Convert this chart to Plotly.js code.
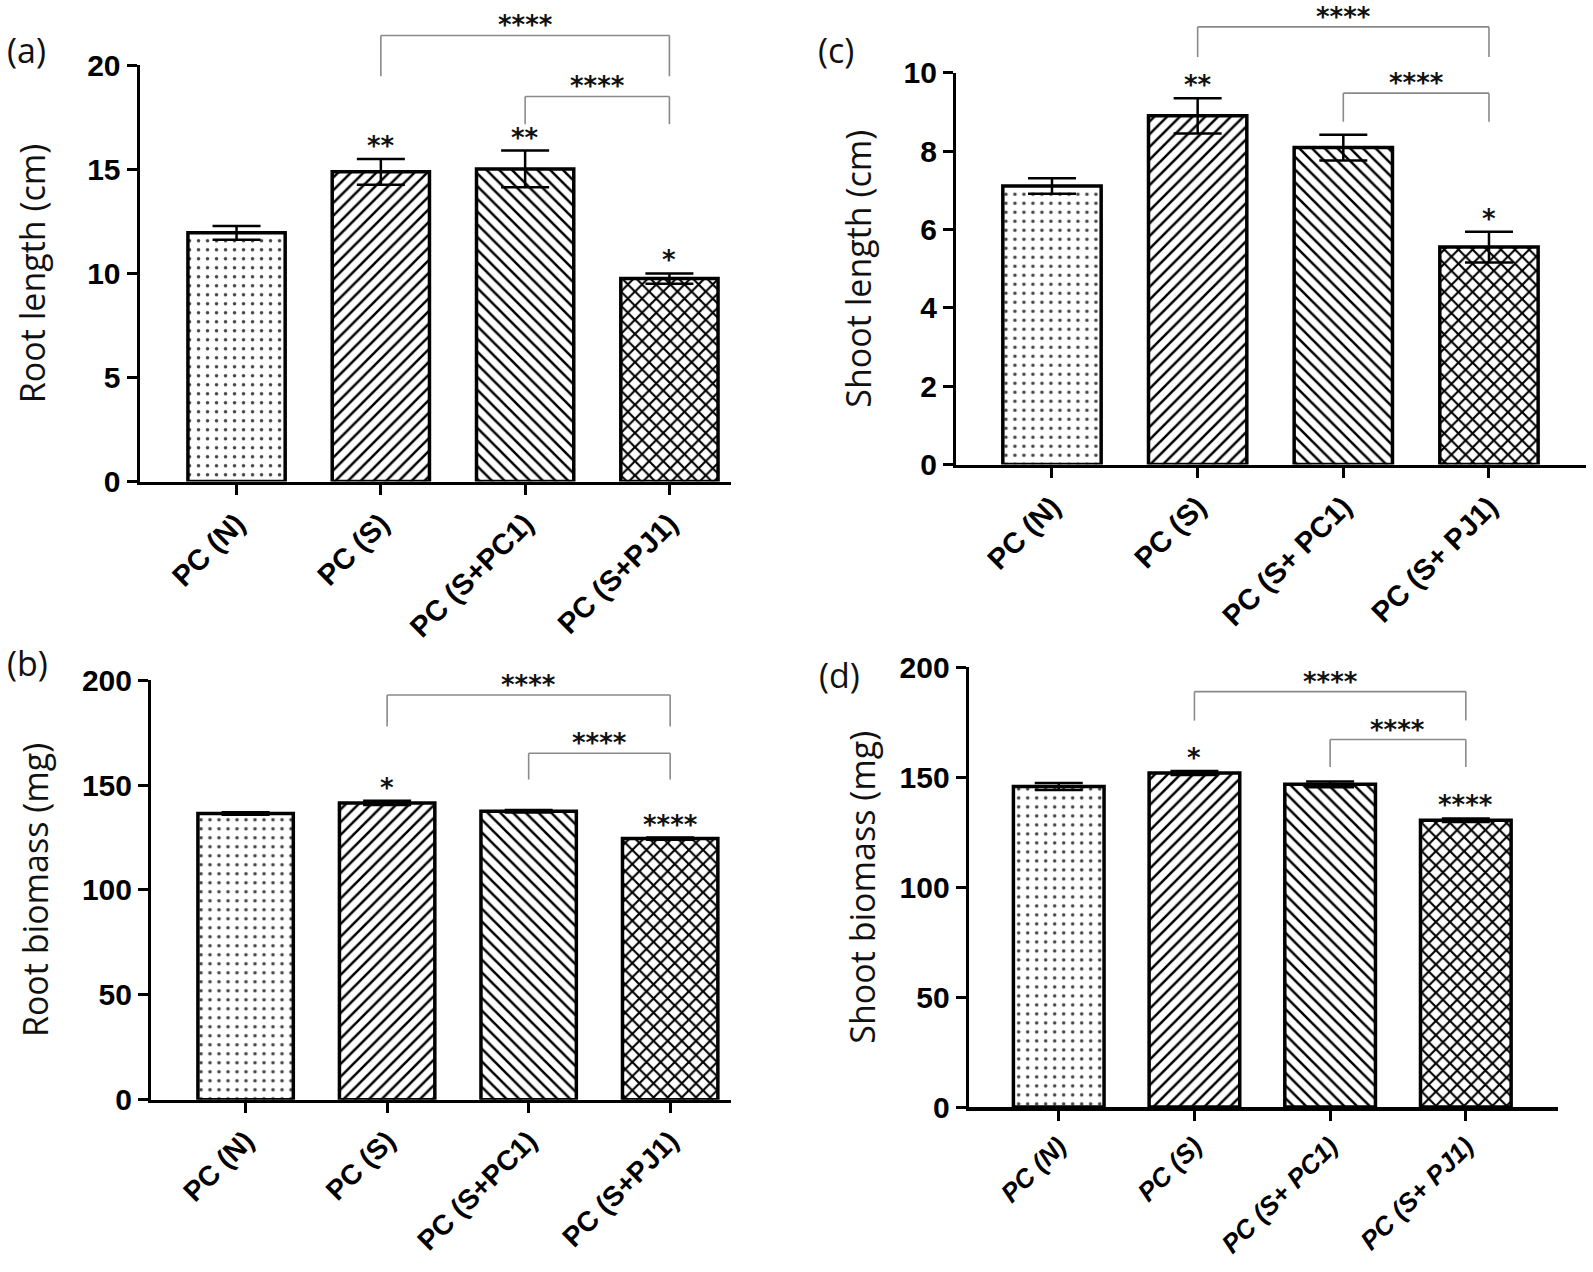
<!DOCTYPE html>
<html>
<head>
<meta charset="utf-8">
<script src="https://cdn.plot.ly/plotly-3.0.1.min.js"></script>
<style>html,body{margin:0;padding:0;background:#fff}#chart{width:1593px;height:1272px}</style>
</head>
<body>
<div id="chart"></div>
<script>
// ---------- data ----------
const categoriesAB = ["PC (N)", "PC (S)", "PC (S+PC1)", "PC (S+PJ1)"];
const categoriesCD = ["PC (N)", "PC (S)", "PC (S+ PC1)", "PC (S+ PJ1)"];

const rootLength = [11.95, 14.88, 15.02, 9.75];
const rootLengthErr = [0.33, 0.62, 0.88, 0.25];
const rootLengthSig = ["", "**", "**", "*"];

const shootLength = [7.11, 8.9, 8.09, 5.55];
const shootLengthErr = [0.2, 0.45, 0.33, 0.39];
const shootLengthSig = ["", "**", "", "*"];

const rootBiomass = [136.5, 141.5, 137.5, 124.5];
const rootBiomassErr = [0.6, 1.0, 0.6, 0.5];
const rootBiomassSig = ["", "*", "", "****"];

const shootBiomass = [145.8, 152.0, 146.8, 130.5];
const shootBiomassErr = [1.6, 0.9, 1.3, 0.8];
const shootBiomassSig = ["", "*", "", "****"];

// comparison brackets: from / to category index, bar level, leg bottom
const bracketFromA = [1, 2], bracketToA = [3, 3], bracketLevelA = [21.43, 18.5], bracketLegA = [19.47, 17.17];
const bracketFromC = [1, 2], bracketToC = [3, 3], bracketLevelC = [11.17, 9.48], bracketLegC = [10.4, 8.75];
const bracketFromB = [1, 2], bracketToB = [3, 3], bracketLevelB = [193, 165.2], bracketLegB = [178, 152.7];
const bracketFromD = [1, 2], bracketToD = [3, 3], bracketLevelD = [189, 167.2], bracketLegD = [175.8, 154.7];
const bracketLabel = "****";

// ---------- styling ----------
const patShapes = [".", "/", "\\", "x"];
const patSize = [9, 9, 9, 10];
const patSolid = [0.12, 0.28, 0.28, 0.38];
const patFg = ["#444", "#000", "#000", "#000"];
const starFont = {family: "DejaVu Sans, sans-serif", size: 26, weight: "bold", color: "#111"};

const panels = [
  {x: "x",  y: "y",  cats: categoriesAB, vals: rootLength,   err: rootLengthErr,   sig: rootLengthSig,
   bf: bracketFromA, bt: bracketToA, bl: bracketLevelA, bg: bracketLegA, yr: [0, 20],  dt: 5,
   xr: [-0.669, 3.427], xd: [0.0879, 0.4589], yd: [0.6214, 0.9487], title: "Root length (cm)", so: 32, bw: 0.674, italic: false, xfs: 29},
  {x: "x2", y: "y2", cats: categoriesCD, vals: shootLength,  err: shootLengthErr,  sig: shootLengthSig,
   bf: bracketFromC, bt: bracketToC, bl: bracketLevelC, bg: bracketLegC, yr: [0, 10],  dt: 2,
   xr: [-0.656, 3.666], xd: [0.6004, 0.9956], yd: [0.6348, 0.9428], title: "Shoot length (cm)", so: 22, bw: 0.675, italic: false, xfs: 29},
  {x: "x3", y: "y3", cats: categoriesAB, vals: rootBiomass,  err: rootBiomassErr,  sig: rootBiomassSig,
   bf: bracketFromB, bt: bracketToB, bl: bracketLevelB, bg: bracketLegB, yr: [0, 200], dt: 50,
   xr: [-0.665, 3.43], xd: [0.0951, 0.4589], yd: [0.1355, 0.4652], title: "Root biomass (mg)", so: 24, bw: 0.674, italic: false, xfs: 28},
  {x: "x4", y: "y4", cats: categoriesCD, vals: shootBiomass, err: shootBiomassErr, sig: shootBiomassSig,
   bf: bracketFromD, bt: bracketToD, bl: bracketLevelD, bg: bracketLegD, yr: [0, 200], dt: 50,
   xr: [-0.66, 3.679], xd: [0.6084, 0.978], yd: [0.1297, 0.4753], title: "Shoot biomass (mg)", so: 14, bw: 0.668, italic: true, xfs: 26}
];

const traces = [];
const shapes = [];
const annotations = [];
const layout = {
  width: 1593, height: 1272,
  margin: {l: 0, r: 0, t: 0, b: 0},
  paper_bgcolor: "#fff", plot_bgcolor: "#fff",
  showlegend: false
};

panels.forEach((p, i) => {
  traces.push({
    type: "bar", x: p.cats, y: p.vals, xaxis: p.x, yaxis: p.y, width: p.bw,
    marker: {
      color: "#fff",
      line: {color: "#000", width: 3.5},
      pattern: {shape: patShapes, size: patSize, solidity: patSolid, fgcolor: patFg, bgcolor: "#fff", fillmode: "replace"}
    },
    error_y: {type: "data", array: p.err, visible: true, color: "#000", thickness: 2.5, width: 24},
    hoverinfo: "skip"
  });

  const xn = "xaxis" + (i === 0 ? "" : i + 1);
  const yn = "yaxis" + (i === 0 ? "" : i + 1);
  layout[xn] = {
    domain: p.xd, anchor: p.y, type: "category", range: p.xr,
    showline: true, linecolor: "#000", linewidth: 3.5, showgrid: false, zeroline: false,
    ticks: "outside", ticklen: 10, tickwidth: 3, tickcolor: "#000",
    tickangle: -45, categoryorder: "array", categoryarray: p.cats,
    tickfont: {family: "Liberation Sans, Arial, sans-serif", size: p.xfs, weight: "bold", color: "#000", style: p.italic ? "italic" : "normal"},
    fixedrange: true
  };
  layout[yn] = {
    domain: p.yd, anchor: p.x, range: p.yr, dtick: p.dt, tick0: 0,
    showline: true, linecolor: "#000", linewidth: 3.5, showgrid: false, zeroline: false,
    ticks: "outside", ticklen: 10, tickwidth: 3, tickcolor: "#000",
    tickfont: {family: "Liberation Sans, Arial, sans-serif", size: 30, weight: "bold", color: "#000"},
    title: {text: p.title, font: {family: "Open Sans, sans-serif", size: 34, color: "#111"}, standoff: p.so},
    fixedrange: true
  };

  const span = p.yr[1] - p.yr[0];
  const dom = v => (v - p.yr[0]) / span;
  const toPaper = v => p.yd[0] + dom(v) * (p.yd[1] - p.yd[0]);
  const yd = p.y + " domain";
  const lineStyle = {color: "#8a8a8a", width: 1.6};
  p.bf.forEach((f, k) => {
    const t = p.bt[k];
    const lvl = dom(p.bl[k]);
    const leg = dom(p.bg[k]);
    shapes.push({type: "line", xref: p.x, yref: yd, x0: f, x1: f, y0: leg, y1: lvl, line: lineStyle});
    shapes.push({type: "line", xref: p.x, yref: yd, x0: f, x1: t, y0: lvl, y1: lvl, line: lineStyle});
    shapes.push({type: "line", xref: p.x, yref: yd, x0: t, x1: t, y0: lvl, y1: leg, line: lineStyle});
    annotations.push({xref: p.x, yref: "paper", x: (f + t) / 2, y: toPaper(p.bl[k]), text: bracketLabel, showarrow: false,
      yanchor: "bottom", yshift: -6, borderpad: 0, font: starFont});
  });
  p.sig.forEach((s, k) => {
    if (!s) return;
    annotations.push({xref: p.x, yref: p.y, x: k, y: p.vals[k] + p.err[k], text: s, showarrow: false,
      yanchor: "bottom", yshift: -3, borderpad: 0, font: starFont});
  });
});

// panel letters
const panelLetters = ["(a)", "(c)", "(b)", "(d)"];
const letterX = [26 / 1593, 836 / 1593, 27 / 1593, 840 / 1593];
const letterY = [1 - 50 / 1272, 1 - 50 / 1272, 1 - 663 / 1272, 1 - 675 / 1272];
panelLetters.forEach((t, i) => {
  annotations.push({xref: "paper", yref: "paper", x: letterX[i], y: letterY[i], text: t, showarrow: false,
    xanchor: "center", yanchor: "middle", font: {family: "Open Sans, sans-serif", size: 34, color: "#111"}});
});

layout.shapes = shapes;
layout.annotations = annotations;

Plotly.newPlot("chart", traces, layout, {displayModeBar: false, staticPlot: true});
</script>
</body>
</html>
